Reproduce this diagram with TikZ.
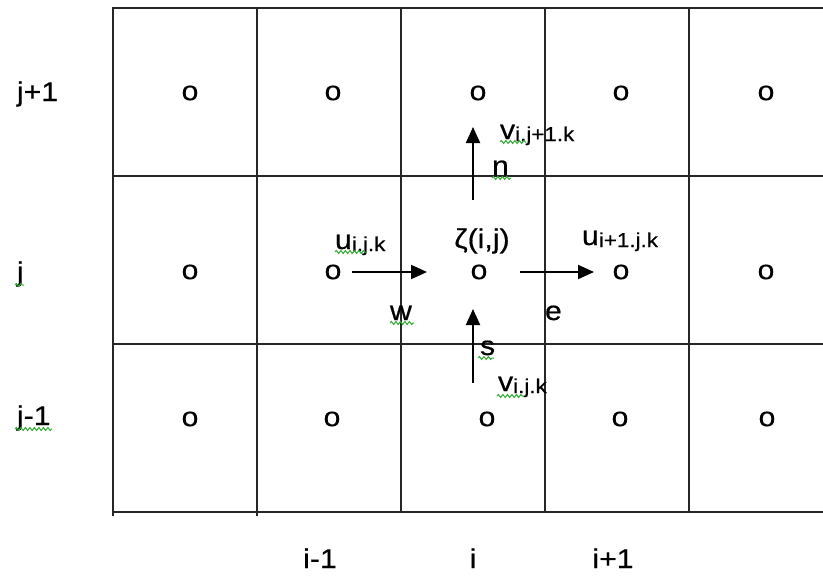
\documentclass[tikz,border=0pt]{standalone}
\usepackage{fontspec}
\setmainfont{Liberation Sans}[FakeStretch=1.12,FakeBold=0.5]
\usetikzlibrary{arrows.meta,decorations.pathmorphing}
\newcommand{\subsz}[1]{\raisebox{-2pt}{\fontsize{20}{22}\selectfont #1}}
\begin{document}
\begin{tikzpicture}[x=1pt,y=-1pt,
  gridline/.style={line width=2pt,draw=black!85,line cap=rect},
  lab/.style={inner sep=0pt,outer sep=0pt,font=\fontsize{27}{30}\selectfont,text=black},
  dot/.style={lab,anchor=center},
  flow/.style={line width=2pt,draw=black,-{Triangle[length=16pt,width=14pt]}},
  spell/.style={draw=green!60!black!80,line width=1pt,decorate,
    decoration={snake,segment length=4.5pt,amplitude=1.5pt}}]
\useasboundingbox (0,0) rectangle (823,576);
% grid
\draw[gridline] (113,8) -- (823,8);
\draw[gridline] (113,176) -- (823,176);
\draw[gridline] (113,344) -- (823,344);
\draw[gridline] (113,512) -- (823,512);
\draw[gridline] (113,8) -- (113,515);
\draw[gridline] (257,8) -- (257,515);
\draw[gridline] (401,8) -- (401,512);
\draw[gridline] (545,8) -- (545,512);
\draw[gridline] (689,8) -- (689,512);
% cell markers
\node[dot] (o11) at (190,93) {o};
\node[dot] (o12) at (333,93) {o};
\node[dot] (o13) at (478,93) {o};
\node[dot] (o14) at (621,93) {o};
\node[dot] (o15) at (766,93) {o};
\node[dot] (o21) at (190,272) {o};
\node[dot] (o22) at (333,272) {o};
\node[dot] (o23) at (479,272) {o};
\node[dot] (o24) at (621,272) {o};
\node[dot] (o25) at (766,272) {o};
\node[dot] (o31) at (190,419) {o};
\node[dot] (o32) at (332,419) {o};
\node[dot] (o33) at (487,419) {o};
\node[dot] (o34) at (620,419) {o};
\node[dot] (o35) at (767,419) {o};
% row labels
\node[lab,anchor=base west] (jp) at (17,101) {j+1};
\node[lab,anchor=base west] (jj) at (17,281) {j};
\node[lab,anchor=base west] (jm) at (17,425) {j-1};
% column labels
\node[lab,anchor=base] (im) at (320,568) {i-1};
\node[lab,anchor=base] (ii) at (473,568) {i};
\node[lab,anchor=base] (ip) at (613,568) {i+1};
% centre labels
\node[lab,anchor=base] (zeta) at (482,248) {ζ(i,j)};
\node[lab,anchor=base west] (uw) at (335,249) {u\subsz{i.j.k}};
\node[lab,anchor=base west] (ue) at (582,245) {u\subsz{i+1.j.k}};
\node[lab,anchor=base west] (vn) at (500,139) {v\subsz{i.j+1.k}};
\node[lab,anchor=base west] (vs) at (498,391) {v\subsz{i.j.k}};
\node[lab,anchor=base west] (fn) at (492,175) {n};
\node[lab,anchor=base west] (fw) at (390,320) {w};
\node[lab,anchor=base west] (fe) at (545,320) {e};
\node[lab,anchor=base west] (fs) at (480,355) {s};
% arrows
\coordinate (a1s) at (352,272);
\coordinate (a1e) at (427,272);
\coordinate (a2s) at (520,272);
\coordinate (a2e) at (594,272);
\coordinate (a3s) at (473,200);
\coordinate (a3e) at (473,127);
\coordinate (a4s) at (473,383);
\coordinate (a4e) at (473,309);
\draw[flow] (a1s) -- (a1e);
\draw[flow] (a2s) -- (a2e);
\draw[flow] (a3s) -- (a3e);
\draw[flow] (a4s) -- (a4e);
% spell-check underlines
\draw[spell] (335,252) -- (366,252);
\draw[spell] (500,142) -- (526,142);
\draw[spell] (492,178) -- (511,178);
\draw[spell] (390,323) -- (414,323);
\draw[spell] (478,358) -- (494,358);
\draw[spell] (497,396) -- (524,396);
\draw[spell] (15,285) -- (24,285);
\draw[spell] (15,429) -- (52,429);
\end{tikzpicture}
\end{document}
